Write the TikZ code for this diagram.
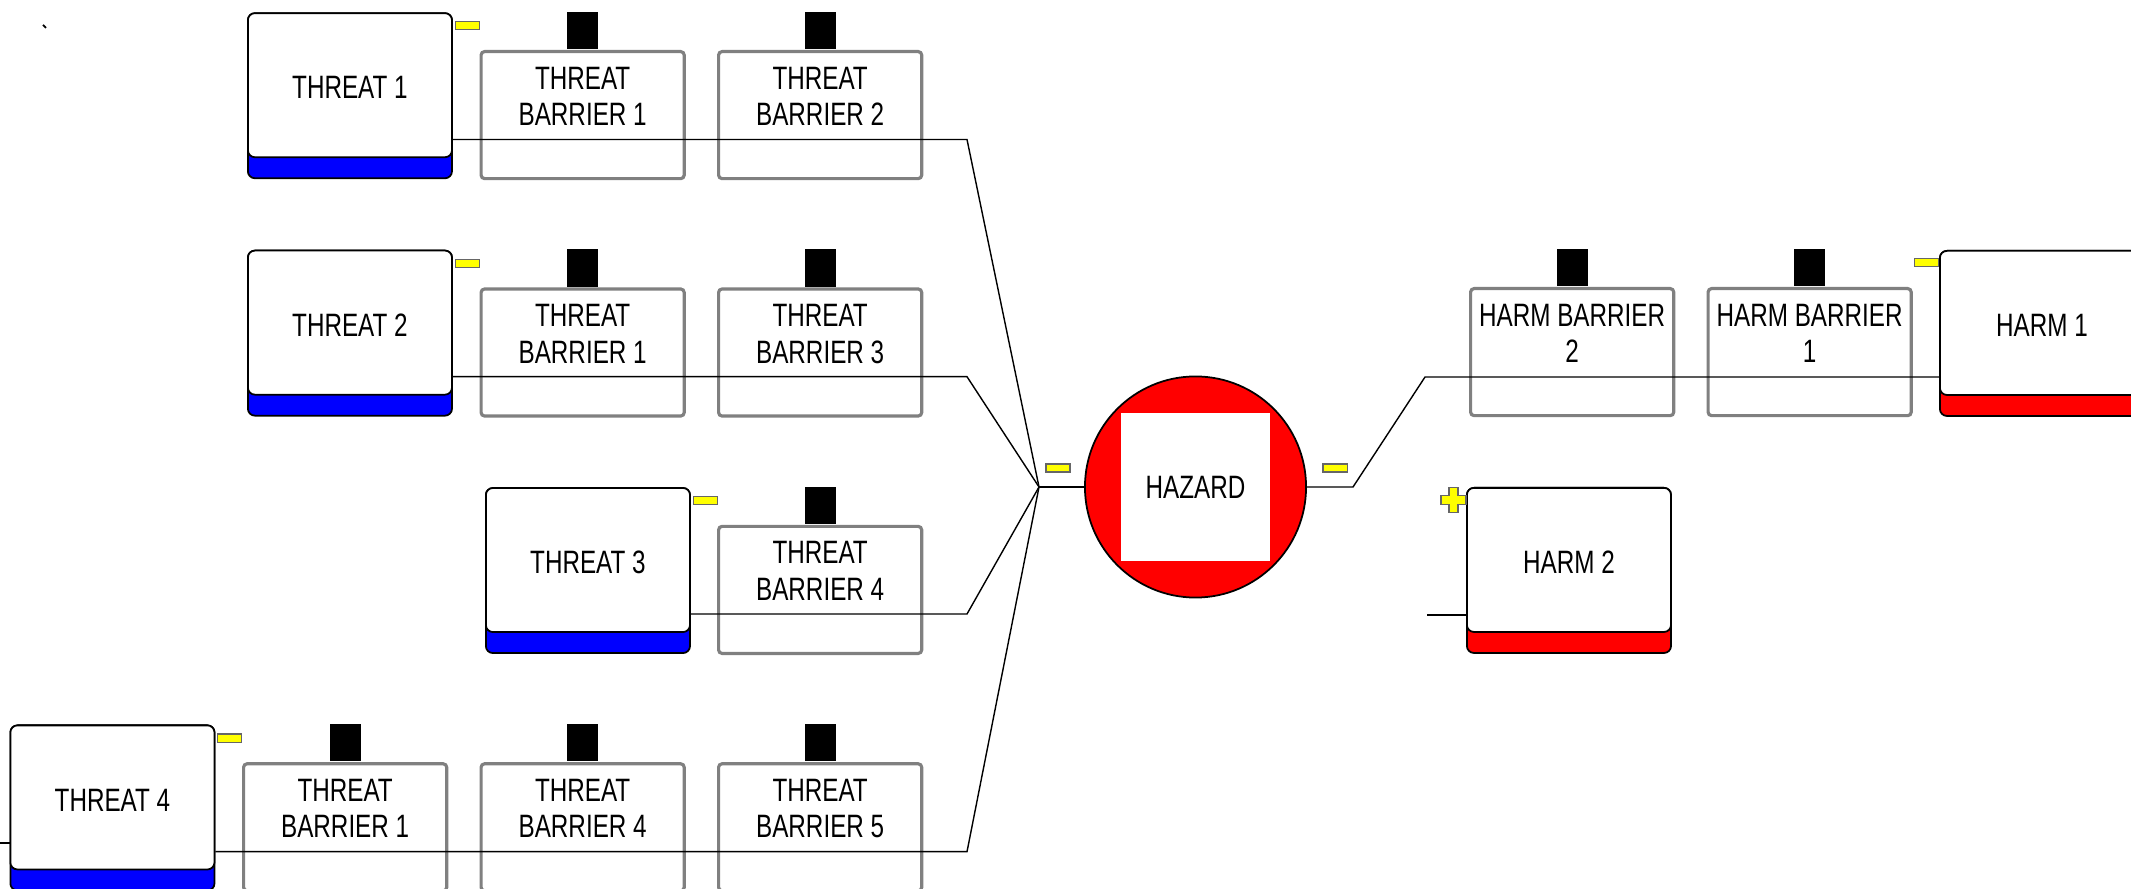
\documentclass[tikz,border=0pt]{standalone}
\usepackage{fontspec}
\setmainfont[FakeStretch=0.75]{Liberation Sans}
\usetikzlibrary{positioning, calc}
\definecolor{threatblue}{RGB}{0, 0, 255}
\definecolor{harmred}{RGB}{255, 0, 0}
\definecolor{markyellow}{RGB}{255, 255, 0}
\definecolor{barriergray}{RGB}{128, 128, 128}

\begin{document}
\begin{tikzpicture}[x=0.01cm, y=-0.01cm,
  every node/.style={font=\fontsize{9.2pt}{10.4pt}\selectfont, inner sep=0pt},
  eventband/.style={draw, line width=0.5pt, rounded corners=2pt, minimum width=2.04cm, minimum height=1.65cm, anchor=north west},
  eventbox/.style={draw, fill=white, line width=0.5pt, rounded corners=2pt, minimum width=2.04cm, minimum height=1.44cm, anchor=north, text height=0.275cm, text depth=0cm},
  barrier/.style={draw=barriergray, line width=0.9pt, rounded corners=1pt, minimum width=2.03cm, align=center, text height=0.74cm, text depth=0.53cm, anchor=north west},
  tab/.style={fill=black, minimum width=0.31cm, minimum height=0.375cm, anchor=south},
  minus/.style={draw=black!60, fill=markyellow, line width=0.3pt, minimum width=0.24cm, minimum height=0.08cm},
  link/.style={line width=0.4pt}
]
  \useasboundingbox (0,0) rectangle (2131,889);

  % Threats
  \node[eventband, fill=threatblue] (t1band) at (247,12.3) {};
  \node[eventbox] (t1) at (t1band.north) {THREAT 1};
  \node[eventband, fill=threatblue] (t2band) at (247,249.7) {};
  \node[eventbox] (t2) at (t2band.north) {THREAT 2};
  \node[eventband, fill=threatblue] (t3band) at (485,487.1) {};
  \node[eventbox] (t3) at (t3band.north) {THREAT 3};
  \node[eventband, fill=threatblue] (t4band) at (9.5,724.5) {};
  \node[eventbox] (t4) at (t4band.north) {THREAT 4};

  % Threat barriers
  \node[barrier] (b1a) at (479.5,50) {THREAT\\BARRIER 1};
  \node[barrier] (b1b) at (717,50) {THREAT\\BARRIER 2};
  \node[barrier] (b2a) at (479.5,287.4) {THREAT\\BARRIER 1};
  \node[barrier] (b2b) at (717,287.4) {THREAT\\BARRIER 3};
  \node[barrier] (b3a) at (717,524.8) {THREAT\\BARRIER 4};
  \node[barrier] (b4a) at (242,762.2) {THREAT\\BARRIER 1};
  \node[barrier] (b4b) at (479.5,762.2) {THREAT\\BARRIER 4};
  \node[barrier] (b4c) at (717,762.2) {THREAT\\BARRIER 5};

  % Hazard
  \node[circle, draw, fill=harmred, line width=0.5pt, minimum size=2.21cm] (hzc) at (1195.5,487) {};
  \node[fill=white, minimum width=1.49cm, minimum height=1.48cm] (hz) at (hzc) {HAZARD};

  % Harm barriers and harms
  \node[barrier] (hb2) at (1469,287) {HARM BARRIER\\2};
  \node[barrier] (hb1) at (1706.5,287) {HARM BARRIER\\1};
  \node[eventband, fill=harmred] (h1band) at (1939,250) {};
  \node[eventbox] (h1) at (h1band.north) {HARM 1};
  \node[eventband, fill=harmred] (h2band) at (1466,487) {};
  \node[eventbox] (h2) at (h2band.north) {HARM 2};

  % Barrier tabs
  \foreach \b in {b1a, b1b, b2a, b2b, b3a, b4a, b4b, b4c, hb2, hb1}
    \node[tab] (\b tab) at (\b.north) {};

  % Markers
  \node[minus, anchor=north west] (t1min) at ($(t1.north east)+(2,9)$) {};
  \node[minus, anchor=north west] (t2min) at ($(t2.north east)+(2,9)$) {};
  \node[minus, anchor=north west] (t3min) at ($(t3.north east)+(2,9)$) {};
  \node[minus, anchor=north west] (t4min) at ($(t4.north east)+(2,9)$) {};
  \node[minus, anchor=north east] (h1min) at ($(h1.north west)+(0,8)$) {};
  \node[minus] (hzminl) at (1058,468) {};
  \node[minus] (hzminr) at (1335,468) {};
  \draw[draw=black!60, fill=markyellow, line width=0.3pt]
    (1449,487.5) -- (1458,487.5) -- (1458,495.5) -- (1466,495.5) -- (1466,504.5) -- (1458,504.5)
    -- (1458,512.5) -- (1449,512.5) -- (1449,504.5) -- (1441,504.5) -- (1441,495.5) -- (1449,495.5) -- cycle;

  % Connectors
  \coordinate (hub) at (1039,487);
  \coordinate (k1) at (967,139.5);
  \coordinate (k2) at (967,376.7);
  \coordinate (k3) at (967,614);
  \coordinate (k4) at (967,851.7);
  \draw[link] (t1.east |- k1) -- (k1) -- (hub);
  \draw[link] (t2.east |- k2) -- (k2) -- (hub);
  \draw[link] (t3.east |- k3) -- (k3) -- (hub);
  \draw[link] (t4.east |- k4) -- (k4) -- (hub);
  \draw[link] (hub) -- (hzc.west);

  \coordinate (r1) at (1353,487);
  \coordinate (r2) at (1425,377);
  \draw[link] (hzc.east) -- (r1) -- (r2) -- (r2 -| h1.west);

  \coordinate (t4in) at (0,843);
  \draw[link] (t4in) -- (t4in -| t4.west);
  \coordinate (h2in) at (1427,615);
  \draw[link] (h2in) -- (h2in -| h2.west);

  \draw[line width=0.5pt] (43,25) -- (46,28);
\end{tikzpicture}
\end{document}
